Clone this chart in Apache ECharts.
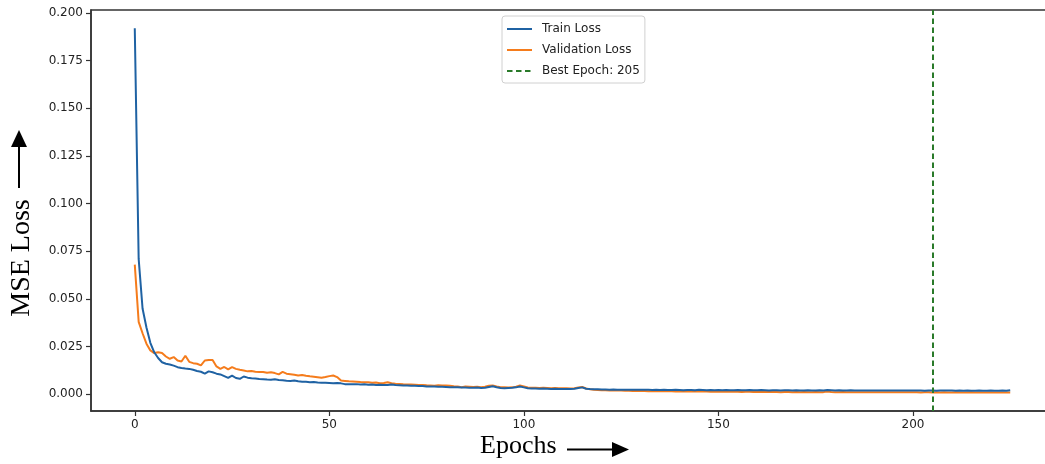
<!DOCTYPE html>
<html>
<head>
<meta charset="utf-8">
<script src="https://cdn.jsdelivr.net/npm/echarts@6/dist/echarts.min.js"></script>
<style>html,body{margin:0;padding:0;background:#fff;overflow:hidden}#c{width:1045px;height:464px}</style>
</head>
<body>
<div id="c"></div>
<script>
// ---- data ----
const trainLoss = [
  0.192, 0.071, 0.045, 0.035, 0.027, 0.022, 0.019, 0.0168, 0.016, 0.0156,
  0.015, 0.0142, 0.0138, 0.0135, 0.0133, 0.0128, 0.0122, 0.0118, 0.0108, 0.012,
  0.0115, 0.0108, 0.0104, 0.0095, 0.0086, 0.0098, 0.0085, 0.0081, 0.0093, 0.0087,
  0.0084, 0.0082, 0.008, 0.0079, 0.0077, 0.0076, 0.0078, 0.0075, 0.0073, 0.0071,
  0.007, 0.0072, 0.0068, 0.0066, 0.0065, 0.0063, 0.0064, 0.0061, 0.006, 0.006,
  0.0059, 0.0058, 0.0059, 0.0057, 0.0053, 0.0053, 0.0052, 0.0053, 0.0051, 0.0052,
  0.005, 0.0051, 0.0049, 0.005, 0.0048, 0.0049, 0.0051, 0.0048, 0.0047, 0.0046,
  0.0046, 0.0045, 0.0044, 0.0043, 0.0043, 0.0041, 0.004, 0.0041, 0.0039, 0.0039,
  0.0038, 0.0037, 0.0036, 0.0037, 0.0035, 0.0035, 0.0034, 0.0034, 0.0035, 0.0033,
  0.0034, 0.0038, 0.0042, 0.0037, 0.0033, 0.0032, 0.0033, 0.0034, 0.0036, 0.004,
  0.0036, 0.0031, 0.003, 0.003, 0.0029, 0.003, 0.0029, 0.0028, 0.0029, 0.0028,
  0.0028, 0.0027, 0.0028, 0.0029, 0.0033, 0.0036, 0.0029, 0.0027, 0.0026, 0.0026,
  0.0025, 0.0025, 0.0024, 0.0025, 0.0024, 0.0024, 0.0023, 0.0024, 0.0024, 0.0023,
  0.0023, 0.0024, 0.0023, 0.0022, 0.0023, 0.0022, 0.0023, 0.0022, 0.0022, 0.0023,
  0.0022, 0.0021, 0.0022, 0.0022, 0.0021, 0.0023, 0.0022, 0.0021, 0.0022, 0.0021,
  0.0022, 0.0021, 0.0022, 0.0021, 0.0021, 0.0022, 0.0021, 0.0021, 0.0022, 0.0021,
  0.0021, 0.0022, 0.0021, 0.002, 0.0021, 0.0021, 0.002, 0.0021, 0.0021, 0.002,
  0.0021, 0.002, 0.002, 0.0021, 0.002, 0.002, 0.0021, 0.002, 0.0022, 0.0021,
  0.002, 0.0021, 0.002, 0.002, 0.0021, 0.002, 0.002, 0.0019, 0.002, 0.002,
  0.0019, 0.002, 0.002, 0.0019, 0.002, 0.0019, 0.0019, 0.002, 0.0019, 0.0019,
  0.002, 0.0019, 0.0019, 0.0018, 0.0019, 0.0019, 0.0018, 0.0019, 0.002, 0.0019,
  0.0019, 0.0018, 0.0019, 0.0018, 0.0019, 0.0018, 0.0018, 0.0019, 0.0018, 0.0018,
  0.0019, 0.0018, 0.0018, 0.0019, 0.0018, 0.0021
];
const valLoss = [
  0.068, 0.038, 0.032, 0.0265, 0.023, 0.0216, 0.022, 0.0216, 0.0198, 0.0186,
  0.0195, 0.0177, 0.0172, 0.0202, 0.017, 0.0163, 0.016, 0.0151, 0.0177, 0.018,
  0.018, 0.0146, 0.0133, 0.0143, 0.013, 0.0142, 0.0133, 0.0128, 0.0125, 0.012,
  0.0122, 0.0118, 0.0117, 0.0117, 0.0113, 0.0115, 0.0111, 0.0104, 0.0117, 0.0108,
  0.0105, 0.0102, 0.0098, 0.0101, 0.0097, 0.0094, 0.0092, 0.0089, 0.0086, 0.009,
  0.0095, 0.0098, 0.009, 0.0072, 0.007, 0.0068, 0.0067, 0.0066, 0.0064, 0.0063,
  0.0063, 0.006, 0.0061, 0.0058, 0.0059, 0.0063, 0.0058, 0.0055, 0.0054, 0.0052,
  0.0051, 0.0051, 0.005, 0.0048, 0.0049, 0.0047, 0.0046, 0.0045, 0.0047, 0.0046,
  0.0046, 0.0044, 0.0042, 0.0041, 0.0037, 0.004, 0.0039, 0.0038, 0.0039, 0.0037,
  0.0039, 0.0044, 0.0046, 0.0041, 0.0037, 0.0036, 0.0035, 0.0036, 0.0039, 0.0046,
  0.0041, 0.0035, 0.0034, 0.0034, 0.0033, 0.0034, 0.0033, 0.0032, 0.0033, 0.0031,
  0.0031, 0.0032, 0.003, 0.0031, 0.0035, 0.0038, 0.003, 0.0026, 0.0023, 0.0022,
  0.0021, 0.0021, 0.002, 0.002, 0.0019, 0.0019, 0.0018, 0.0018, 0.0017, 0.0018,
  0.0017, 0.0017, 0.0016, 0.0016, 0.0016, 0.0015, 0.0016, 0.0015, 0.0015, 0.0014,
  0.0015, 0.0014, 0.0015, 0.0014, 0.0014, 0.0015, 0.0014, 0.0014, 0.0013, 0.0014,
  0.0013, 0.0014, 0.0013, 0.0013, 0.0014, 0.0013, 0.0012, 0.0013, 0.0013, 0.0012,
  0.0013, 0.0012, 0.0012, 0.0013, 0.0012, 0.0012, 0.0011, 0.0012, 0.0012, 0.0011,
  0.0012, 0.0011, 0.0012, 0.0011, 0.0011, 0.0012, 0.0011, 0.0011, 0.0014, 0.0012,
  0.0011, 0.0011, 0.0012, 0.0011, 0.001, 0.0011, 0.0011, 0.001, 0.0011, 0.001,
  0.001, 0.0011, 0.001, 0.001, 0.0011, 0.001, 0.001, 0.001, 0.0011, 0.001,
  0.001, 0.001, 0.0009, 0.001, 0.001, 0.0009, 0.001, 0.0009, 0.001, 0.0009,
  0.0009, 0.001, 0.0009, 0.0009, 0.0009, 0.001, 0.0009, 0.0009, 0.0009, 0.0009,
  0.0009, 0.0009, 0.0009, 0.0009, 0.0009, 0.0009
];
const bestEpoch = 205;
const xTicks = [0, 50, 100, 150, 200];
const yTicks = [0, 0.025, 0.05, 0.075, 0.1, 0.125, 0.15, 0.175, 0.2];
const seriesNames = ['Train Loss', 'Validation Loss', 'Best Epoch: ' + bestEpoch];

const epochs = trainLoss.map((_, i) => i);
const trainPts = epochs.map(i => [i, trainLoss[i]]);
const valPts = epochs.map(i => [i, valLoss[i]]);

const AX = '#333';
const tickFont = { fontFamily: 'DejaVu Sans', fontSize: 12, color: '#222' };

const chart = echarts.init(document.getElementById('c'), null, { renderer: 'canvas' });
chart.setOption({
  animation: false,
  backgroundColor: '#fff',
  grid: { left: 91, width: 963, top: 10, bottom: 53, outerBoundsMode: 'none', containLabel: false,
    show: true, borderColor: AX, borderWidth: 1.5, backgroundColor: 'transparent' },
  xAxis: {
    type: 'value', min: -11.25, max: 236.25,
    axisLine: { show: true, onZero: false, lineStyle: { color: AX, width: 1.5 } },
    axisTick: { show: true, length: 5, customValues: xTicks, lineStyle: { color: AX, width: 1.2 } },
    axisLabel: Object.assign({ customValues: xTicks, margin: 8, formatter: v => String(v) }, tickFont),
    splitLine: { show: false }
  },
  yAxis: {
    type: 'value', min: -0.0088, max: 0.2016,
    axisLine: { show: true, onZero: false, lineStyle: { color: AX, width: 1.5 } },
    axisTick: { show: true, length: 5, customValues: yTicks, lineStyle: { color: AX, width: 1.2 } },
    axisLabel: Object.assign({ customValues: yTicks, margin: 8, formatter: v => v.toFixed(3) }, tickFont),
    splitLine: { show: false }
  },
  legend: {
    orient: 'vertical', left: 502, top: 16,
    padding: [7, 5, 6, 4],
    itemGap: 9, itemWidth: 25, itemHeight: 12,
    itemStyle: { opacity: 0 },
    backgroundColor: '#fff', borderColor: '#d0d0d0', borderWidth: 1, borderRadius: 3,
    textStyle: { fontFamily: 'DejaVu Sans', fontSize: 12, color: '#222', padding: [0, 0, 0, 5] },
    data: seriesNames
  },
  series: [
    { name: seriesNames[0], type: 'line', data: trainPts, symbol: 'none', z: 3,
      lineStyle: { color: '#1f62a3', width: 2 }, itemStyle: { color: '#1f62a3' } },
    { name: seriesNames[1], type: 'line', data: valPts, symbol: 'none', z: 2,
      lineStyle: { color: '#f57c1c', width: 2 }, itemStyle: { color: '#f57c1c' } },
    { name: seriesNames[2], type: 'line', data: [], symbol: 'none',
      lineStyle: { color: '#2a7a2a', width: 2, type: [5.5, 3.5] }, itemStyle: { color: '#2a7a2a' },
      markLine: { silent: true, symbol: 'none', label: { show: false },
        lineStyle: { color: '#2a7a2a', width: 2, type: [5.5, 3.5] },
        data: [{ xAxis: bestEpoch }] } }
  ],
  graphic: [
    { type: 'text', left: 480, top: 433, style: { text: 'Epochs', font: '26px "Liberation Serif"', fill: '#000' } },
    { type: 'line', shape: { x1: 567, y1: 449.5, x2: 614, y2: 449.5 }, style: { stroke: '#000', lineWidth: 2 } },
    { type: 'polygon', shape: { points: [[612, 442], [629, 449.5], [612, 457]] }, style: { fill: '#000' } },
    { type: 'text', x: 22, y: 258, rotation: Math.PI / 2, style: { text: 'MSE Loss', font: '28px "Liberation Serif"', fill: '#000', align: 'center', verticalAlign: 'middle' } },
    { type: 'line', shape: { x1: 19, y1: 188, x2: 19, y2: 145 }, style: { stroke: '#000', lineWidth: 2 } },
    { type: 'polygon', shape: { points: [[11, 147], [19, 130], [27, 147]] }, style: { fill: '#000' } }
  ]
});
</script>
</body>
</html>
